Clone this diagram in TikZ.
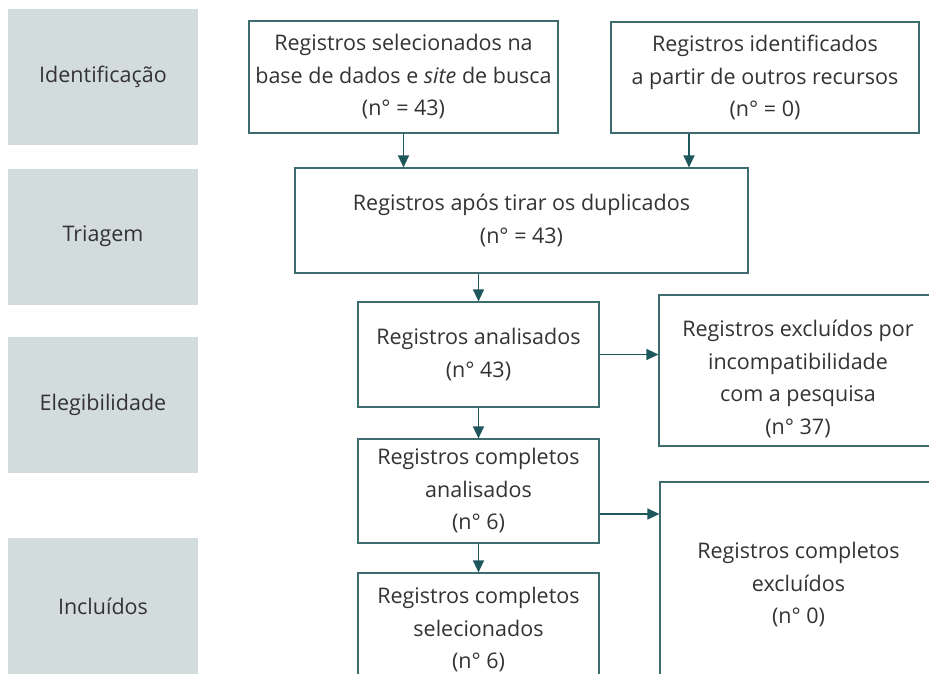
\documentclass[tikz,border=0pt]{standalone}
\usepackage{fontspec}
\setmainfont{Open Sans}
\usetikzlibrary{positioning, arrows.meta}
\definecolor{fasecinza}{HTML}{D3DCDD}
\definecolor{bordaverde}{HTML}{3E6B6E}
\definecolor{setaverde}{HTML}{1F585C}
\definecolor{textocinza}{HTML}{333333}
\tikzset{
  fase/.style={fill=fasecinza, text=textocinza, minimum width=190pt, minimum height=136pt, inner sep=0pt},
  caixa/.style={draw=bordaverde, line width=1.2pt, fill=white, text=textocinza, align=center, inner sep=0pt},
  seta/.style={draw=setaverde, line width=1.3pt, -{Triangle[length=12pt,width=11pt]}}
}
\begin{document}
\begin{tikzpicture}[x=1pt, y=-1pt, font=\fontsize{21.5}{32.5}\selectfont]
\useasboundingbox (0,0) rectangle (929,674);
\clip (0,0) rectangle (929,674);
% fases do lado esquerdo
\node[fase] (idfase) at (103,77) {Identificação};
\node[fase] (trifase) at (103,236.5) {Triagem};
\node[fase] (elefase) at (103,404.5) {Elegibilidade};
\node[fase] (incfase) at (103,606) {Incluídos};
% caixas do fluxo
\node[caixa, minimum width=309pt, minimum height=112pt] (bases) at (403.5,77)
  {Registros selecionados na\\base de dados e \textit{site} de busca\\(n° = 43)};
\node[caixa, minimum width=308pt, minimum height=111pt] (outros) at (765,77.5)
  {Registros identificados\\a partir de outros recursos\\(n° = 0)};
\node[caixa, minimum width=453pt, minimum height=105pt] (semdup) at (521.5,220.5)
  {Registros após tirar os duplicados\\(n° = 43)};
\node[caixa, minimum width=241pt, minimum height=105pt] (analis) at (478.5,354.5)
  {Registros analisados\\(n° 43)};
\node[caixa, minimum width=278pt, minimum height=151pt] (excl) at (798,370.5)
  {\rule{0pt}{33pt}Registros excluídos por\\incompatibilidade\\com a pesquisa\\(n° 37)};
\node[caixa, minimum width=241pt, minimum height=104pt] (complan) at (478.5,491)
  {Registros completos\\analisados\\(n° 6)};
\node[caixa, minimum width=277pt, minimum height=206pt] (complexcl) at (798.5,585)
  {Registros completos\\excluídos\\(n° 0)};
\node[caixa, minimum width=241pt, minimum height=114pt] (complsel) at (478.5,630)
  {Registros completos\\selecionados\\(n° 6)};
% setas
\draw[seta] (bases.south) -- (bases.south |- semdup.north);
\draw[seta] ([xshift=-76pt]outros.south) -- ([xshift=-76pt]outros.south |- semdup.north);
\draw[seta] (semdup.south -| analis.north) -- (analis.north);
\draw[seta] (analis.east) -- (analis.east -| excl.west);
\draw[seta] (analis.south) -- (complan.north);
\draw[seta] ([yshift=-23pt]complan.east) -- ([yshift=-23pt]complan.east -| complexcl.west);
\draw[seta] (complan.south) -- (complsel.north);
\end{tikzpicture}
\end{document}
